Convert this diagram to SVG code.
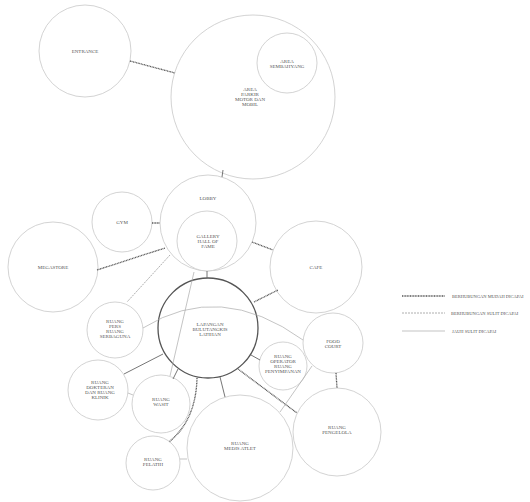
<svg xmlns="http://www.w3.org/2000/svg" width="530" height="502" viewBox="0 0 530 502">
<style>
.n{fill:#fff;stroke:#c8c8c8;stroke-width:0.8}
.nl{fill:none;stroke:#c8c8c8;stroke-width:0.8}
.main{fill:none;stroke:#555;stroke-width:1.3}
text{font-family:"Liberation Serif",serif;font-size:5px;fill:#555;text-anchor:middle}
.lg{font-size:4.5px;text-anchor:start}
.mudah{stroke:#555;stroke-width:1.3;stroke-dasharray:1 0.6;fill:none}
.sulit{stroke:#999;stroke-width:0.8;stroke-dasharray:2 1;fill:none}
.jauh{stroke:#aaa;stroke-width:0.7;fill:none}
.dk{stroke:#666;stroke-width:0.9;fill:none}
</style>
<rect width="530" height="502" fill="#fff"/>
<g id="entrance"><circle class="n" cx="85" cy="51" r="46"/><text x="85" y="53">ENTRANCE</text></g>
<g id="parkir"><circle class="n" cx="253" cy="97" r="82"/><text x="250" y="91">AREA</text><text x="250" y="96">PARKIR</text><text x="250" y="101">MOTOR DAN</text><text x="250" y="106">MOBIL</text></g>
<g id="sembahyang"><circle class="n" cx="287" cy="63" r="30"/><text x="287" y="63">AREA</text><text x="287" y="68">SEMBAHYANG</text></g>
<g id="lobby"><circle class="n" cx="208" cy="223" r="48"/><text x="208" y="200">LOBBY</text></g>
<g id="gallery"><circle class="n" cx="207" cy="241" r="30"/><text x="208" y="238">GALLERY</text><text x="208" y="243">HALL OF</text><text x="208" y="248">FAME</text></g>
<g id="gym"><circle class="n" cx="122" cy="222" r="30"/><text x="122" y="224">GYM</text></g>
<g id="megastore"><circle class="n" cx="53" cy="267" r="45"/><text x="53" y="269">MEGASTORE</text></g>
<g id="cafe"><circle class="n" cx="316" cy="267" r="46"/><text x="316" y="269">CAFE</text></g>
<g id="pers"><circle class="n" cx="115" cy="330" r="28"/><text x="115" y="323">RUANG</text><text x="115" y="328">PERS</text><text x="115" y="333">RUANG</text><text x="115" y="338">SERBAGUNA</text></g>
<g id="foodcourt"><circle class="n" cx="333" cy="343" r="30"/><text x="333" y="343">FOOD</text><text x="333" y="348">COURT</text></g>
<g id="operator"><circle class="n" cx="283" cy="366" r="24"/><text x="283" y="358">RUANG</text><text x="283" y="363">OPERATOR</text><text x="283" y="368">RUANG</text><text x="283" y="373">PENYIMPANAN</text></g>
<g id="dokter"><circle class="n" cx="98" cy="390" r="30"/><text x="100" y="384">RUANG</text><text x="100" y="389">DOKTERAN</text><text x="100" y="394">DAN RUANG</text><text x="100" y="399">KLINIK</text></g>
<g id="wasit"><circle class="n" cx="161" cy="404" r="29"/><text x="161" y="401">RUANG</text><text x="161" y="406">WASIT</text></g>
<g id="pengelola"><circle class="n" cx="337" cy="432" r="44"/><text x="337" y="429">RUANG</text><text x="337" y="434">PENGELOLA</text></g>
<g id="medis"><circle class="n" cx="240" cy="448" r="53"/><text x="240" y="445">RUANG</text><text x="240" y="450">MEDIS ATLET</text></g>
<g id="pelatih"><circle class="n" cx="153" cy="463" r="27"/><text x="153" y="461">RUANG</text><text x="153" y="466">PELATIH</text></g>
<g id="lapangan"><circle class="main" cx="208" cy="328" r="50"/><text x="210" y="326">LAPANGAN</text><text x="210" y="331">BULUTANGKIS</text><text x="210" y="336">LATIHAN</text></g>
<g id="connectors">
<line class="mudah" x1="130" y1="61" x2="175" y2="73"/>
<line class="dk" x1="223" y1="170" x2="222" y2="177"/>
<line class="mudah" x1="152" y1="223" x2="160" y2="223"/>
<line class="mudah" x1="97" y1="270" x2="165" y2="248"/>
<line class="sulit" x1="170" y1="255" x2="127" y2="302"/>
<line class="mudah" x1="252" y1="242" x2="273" y2="250"/>
<line class="dk" x1="207" y1="271" x2="207" y2="278"/>
<line class="mudah" x1="254" y1="302" x2="278" y2="290"/>
<line class="dk" x1="251" y1="355" x2="260" y2="360"/>
<line class="mudah" x1="238" y1="369" x2="297" y2="413"/>
<line class="dk" x1="220" y1="377" x2="225" y2="397"/>
<line class="dk" x1="178" y1="369" x2="173" y2="379"/>
<path class="mudah" d="M197 378 Q196 420 169 442"/>
<line class="dk" x1="163" y1="354" x2="124" y2="374"/>
<line class="mudah" x1="336" y1="373" x2="337" y2="388"/>
<line class="jauh" x1="312" y1="366" x2="280" y2="412"/>
<path class="jauh" d="M143 328 Q220 280 303 340"/>
<line class="jauh" x1="194" y1="272" x2="170" y2="376"/>
<line class="jauh" x1="180" y1="459" x2="187" y2="459"/>
<line class="jauh" x1="128" y1="393" x2="133" y2="395"/>
</g>
<g id="legend">
<line class="mudah" x1="402" y1="296" x2="445" y2="296"/><text class="lg" x="452" y="297.5">BERHUBUNGAN MUDAH DICAPAI</text>
<line class="sulit" x1="402" y1="313" x2="445" y2="313"/><text class="lg" x="451" y="314.5">BERHUBUNGAN SULIT DICAPAI</text>
<line class="jauh" x1="402" y1="331" x2="445" y2="331"/><text class="lg" x="452" y="332.5">JAUH SULIT DICAPAI</text>
</g>
</svg>
